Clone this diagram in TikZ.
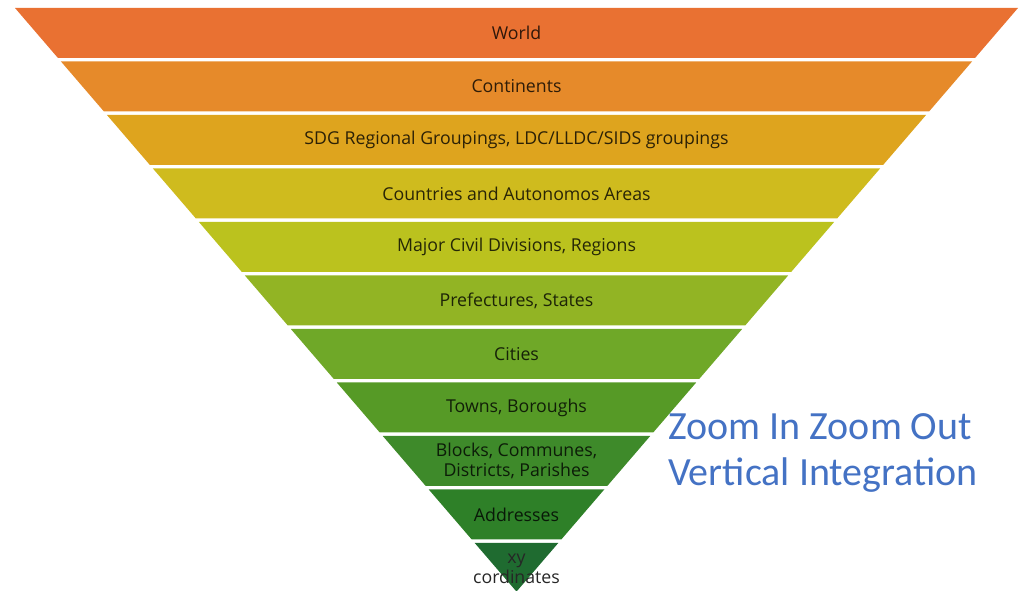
\documentclass[tikz,border=0pt]{standalone}
\usepackage{fontspec}
\setmainfont{Open Sans}
\newfontfamily\calib{Carlito}
\definecolor{cA}{RGB}{233,113,50}
\definecolor{cB}{RGB}{230,138,42}
\definecolor{cC}{RGB}{222,164,30}
\definecolor{cD}{RGB}{207,187,30}
\definecolor{cE}{RGB}{187,194,30}
\definecolor{cF}{RGB}{146,180,36}
\definecolor{cG}{RGB}{111,168,40}
\definecolor{cH}{RGB}{86,154,38}
\definecolor{cI}{RGB}{62,138,42}
\definecolor{cJ}{RGB}{46,128,40}
\definecolor{cK}{RGB}{31,107,48}
\definecolor{zblue}{RGB}{68,114,196}
\begin{document}
\begin{tikzpicture}[x=0.75pt,y=-0.75pt,
  bandtext/.style={font=\fontsize{13.3}{15.5}\selectfont, align=center, inner sep=0pt},
  bluetext/.style={font=\calib\fontsize{30}{36}\selectfont, text=zblue, anchor=base west, inner sep=0pt}]
\useasboundingbox (0,0) rectangle (1022,591);
\foreach \i/\c in {0/cA,1/cB,2/cC,3/cD,4/cE,5/cF,6/cG,7/cH,8/cI,9/cJ} {
  \pgfmathsetmacro\yt{8+53.5*\i}
  \pgfmathsetmacro\yb{\yt+50}
  \pgfmathsetmacro\al{15+0.8593*(\yt-8)}
  \pgfmathsetmacro\ar{1018-0.8593*(\yt-8)}
  \pgfmathsetmacro\bl{15+0.8593*(\yb-8)}
  \pgfmathsetmacro\br{1018-0.8593*(\yb-8)}
  \fill[\c] (\al,\yt) -- (\ar,\yt) -- (\br,\yb) -- (\bl,\yb) -- cycle;
}
\pgfmathsetmacro\yt{8+53.5*10}
\pgfmathsetmacro\al{15+0.8593*(\yt-8)}
\pgfmathsetmacro\ar{1018-0.8593*(\yt-8)}
\fill[cK] (\al,\yt) -- (\ar,\yt) -- (516.5,591.6) -- cycle;
\node[bandtext, text=cA!20!black] (t1) at (516.5,33) {World};
\node[bandtext, text=cB!20!black] (t2) at (516.5,86.5) {Continents};
\node[bandtext, text=cC!20!black] (t3) at (516.5,140) {SDG Regional Groupings, LDC/LLDC/SIDS groupings};
\node[bandtext, text=cD!20!black] (t4) at (516.5,193.5) {Countries and Autonomos Areas};
\node[bandtext, text=cE!20!black] (t5) at (516.5,247) {Major Civil Divisions, Regions};
\node[bandtext, text=cF!20!black] (t6) at (516.5,300.5) {Prefectures, States};
\node[bandtext, text=cG!20!black] (t7) at (516.5,354) {Cities};
\node[bandtext, text=cH!20!black] (t8) at (516.5,407.5) {Towns, Boroughs};
\node[bandtext, text=cI!20!black] (t9) at (516.5,461) {Blocks, Communes,\\Districts, Parishes};
\node[bandtext, text=cJ!20!black] (t10) at (516.5,514.5) {Addresses};
\node[bandtext, text=black!85] (t11) at (516.5,569) {xy\\cordinates};
\node[bluetext] (zoomA) at (668,440) {Zoom In Zoom Out};
\node[bluetext] (zoomB) at (668,486) {Vertical Integration};
\end{tikzpicture}
\end{document}
